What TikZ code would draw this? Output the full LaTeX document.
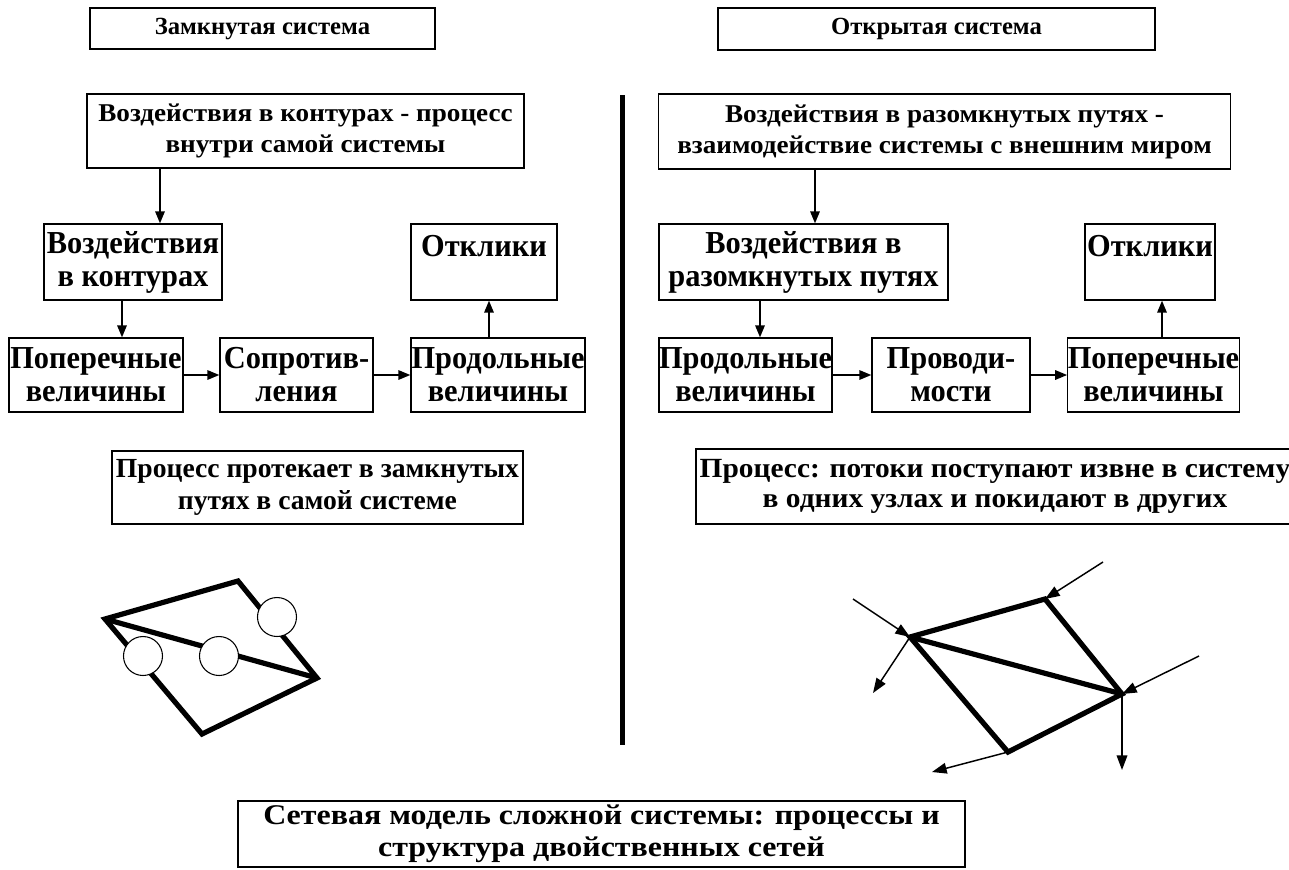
\documentclass[tikz,border=0pt]{standalone}
\usepackage{fontspec}
\setmainfont{Liberation Serif}
\newfontfamily\widerfont[FakeStretch=1.06]{Liberation Serif}
\newfontfamily\capfont[FakeStretch=1.12]{Liberation Serif}
\newfontfamily\openfont[FakeStretch=1.06]{Liberation Serif}
\newfontfamily\bigfont[FakeStretch=0.95]{Liberation Serif}
\usetikzlibrary{arrows.meta,calc}
\def\px{0.75pt}
\begin{document}
\begin{tikzpicture}[x=0.75pt,y=-0.75pt,
  box/.style={draw, line width=0.9pt, align=center, inner sep=0pt,
    font=\bfseries\fontsize{18.5}{23.25}\selectfont},
  headbox/.style={box, font=\widerfont\bfseries\fontsize{19.2}{23.25}\selectfont},
  bigbox/.style={box, font=\bigfont\bfseries\fontsize{24}{24.75}\selectfont},
  procbox/.style={box, font=\bfseries\fontsize{20.7}{24}\selectfont},
  openbox/.style={box, font=\openfont\bfseries\fontsize{20.8}{22.5}\selectfont},
  capbox/.style={box, font=\capfont\bfseries\fontsize{21.4}{24}\selectfont},
  arr/.style={-{Triangle[length=9pt,width=7pt]}, line width=1.5pt},
  flow/.style={-{Triangle[length=11pt,width=8pt]}, line width=1.1pt},
  netedge/.style={line width=3.9pt, line join=miter},
  valve/.style={circle, draw, fill=white, line width=0.8pt, minimum size=39*\px, inner sep=0pt}]
\useasboundingbox (0,0) rectangle (1289,869);
\clip (0,0) rectangle (1289,869);

% ---- closed system ----
\node[box, minimum width=345*\px, minimum height=41*\px] (tL) at (262.5,28.5) {Замкнутая система};
\node[headbox, minimum width=437*\px, minimum height=74*\px] (aL) at (305.5,131)
  {Воздействия в контурах - процесс\\внутри самой системы};
\node[bigbox, minimum width=178*\px, minimum height=76*\px] (bL) at (133,262) {Воздействия\\в контурах};
\node[bigbox, minimum width=146*\px, minimum height=76*\px] (oL) at (484,262) {Отклики\\~};
\node[bigbox, minimum width=174*\px, minimum height=74*\px] (r1L) at (96,375) {Поперечные\\величины};
\node[bigbox, minimum width=153*\px, minimum height=74*\px] (r2L) at (296.5,375) {Сопротив-\\ления};
\node[bigbox, minimum width=174*\px, minimum height=74*\px] (r3L) at (498,375) {Продольные\\величины};
\node[procbox, minimum width=411*\px, minimum height=73*\px] (pL) at (317.5,487.5)
  {Процесс протекает в замкнутых\\путях в самой системе};

\path (bL.north) ++(27,0) coordinate (bLin);
\path (r1L.north) ++(26,0) coordinate (r1Lin);
\path (oL.south) ++(5,0) coordinate (oLin);
\draw[arr] (aL.south -| bLin) -- (bLin);
\draw[arr] (bL.south -| r1Lin) -- (r1Lin);
\draw[arr] (r1L.east) -- (r2L.west);
\draw[arr] (r2L.east) -- (r3L.west);
\draw[arr] (r3L.north -| oLin) -- (oLin);

% closed network with resistances
\coordinate (P1) at (105,619);
\coordinate (P2) at (238,581);
\coordinate (P3) at (317,678);
\coordinate (P4) at (202,734);
\draw[netedge] (P1) -- (P2) -- (P3) -- (P4) -- cycle;
\draw[netedge] (P1) -- (P3);
\node[valve] (c1) at (143,656) {};
\node[valve] (c2) at (219,656) {};
\node[valve] (c3) at (277,617) {};

% ---- separator ----
\coordinate (sepTop) at (622,95);
\coordinate (sepBot) at (622,745);
\draw[line width=3.75pt] (sepTop) -- (sepBot);

% ---- open system ----
\node[box, minimum width=437*\px, minimum height=42*\px] (tR) at (936.5,29) {Открытая система};
\node[headbox, minimum width=572*\px, minimum height=75*\px] (aR) at (944.5,131.5)
  {Воздействия в разомкнутых путях -\\взаимодействие системы с внешним миром};
\node[bigbox, minimum width=289*\px, minimum height=76*\px] (bR) at (803.5,262) {Воздействия в\\разомкнутых путях};
\node[bigbox, minimum width=130*\px, minimum height=76*\px] (oR) at (1150,262) {Отклики\\~};
\node[bigbox, minimum width=173*\px, minimum height=74*\px] (r1R) at (745.5,375) {Продольные\\величины};
\node[bigbox, minimum width=158*\px, minimum height=74*\px] (r2R) at (951,375) {Проводи-\\мости};
\node[bigbox, minimum width=167*\px, minimum height=74*\px] (r3R) at (1153.5,375) {Поперечные\\величины};
\node[openbox, minimum width=598*\px, minimum height=75*\px] (pR) at (995,486.5)
  {Процесс: потоки поступают извне в систему\\в одних узлах и покидают в других};

\path (bR.north) ++(11.5,0) coordinate (bRin);
\path (r1R.north) ++(14.5,0) coordinate (r1Rin);
\path (oR.south) ++(12,0) coordinate (oRin);
\draw[arr] (aR.south -| bRin) -- (bRin);
\draw[arr] (bR.south -| r1Rin) -- (r1Rin);
\draw[arr] (r1R.east) -- (r2R.west);
\draw[arr] (r2R.east) -- (r3R.west);
\draw[arr] (r3R.north -| oRin) -- (oRin);

% open network with external flows
\coordinate (Q1) at (910,637);
\coordinate (Q2) at (1045,599);
\coordinate (Q3) at (1122,694);
\coordinate (Q4) at (1008,752);
\draw[netedge] (Q1) -- (Q2) -- (Q3) -- (Q4) -- cycle;
\draw[netedge] (Q1) -- (Q3);
\coordinate (in1) at (853,599);
\coordinate (in2) at (1103,562);
\coordinate (in3) at (1199,656);
\coordinate (out1) at (873,693);
\coordinate (out2) at (1122,770);
\coordinate (out3) at (932,772);
\draw[flow] (in1) -- (Q1);
\draw[flow] (in2) -- (Q2);
\draw[flow] (in3) -- (Q3);
\draw[flow] (Q1) -- (out1);
\draw[flow] (Q3) -- (out2);
\draw[flow] (Q4) -- (out3);

% ---- caption ----
\node[capbox, minimum width=727*\px, minimum height=66*\px] (cap) at (601.5,834)
  {Сетевая модель сложной системы: процессы и\\структура двойственных сетей};
\end{tikzpicture}
\end{document}
